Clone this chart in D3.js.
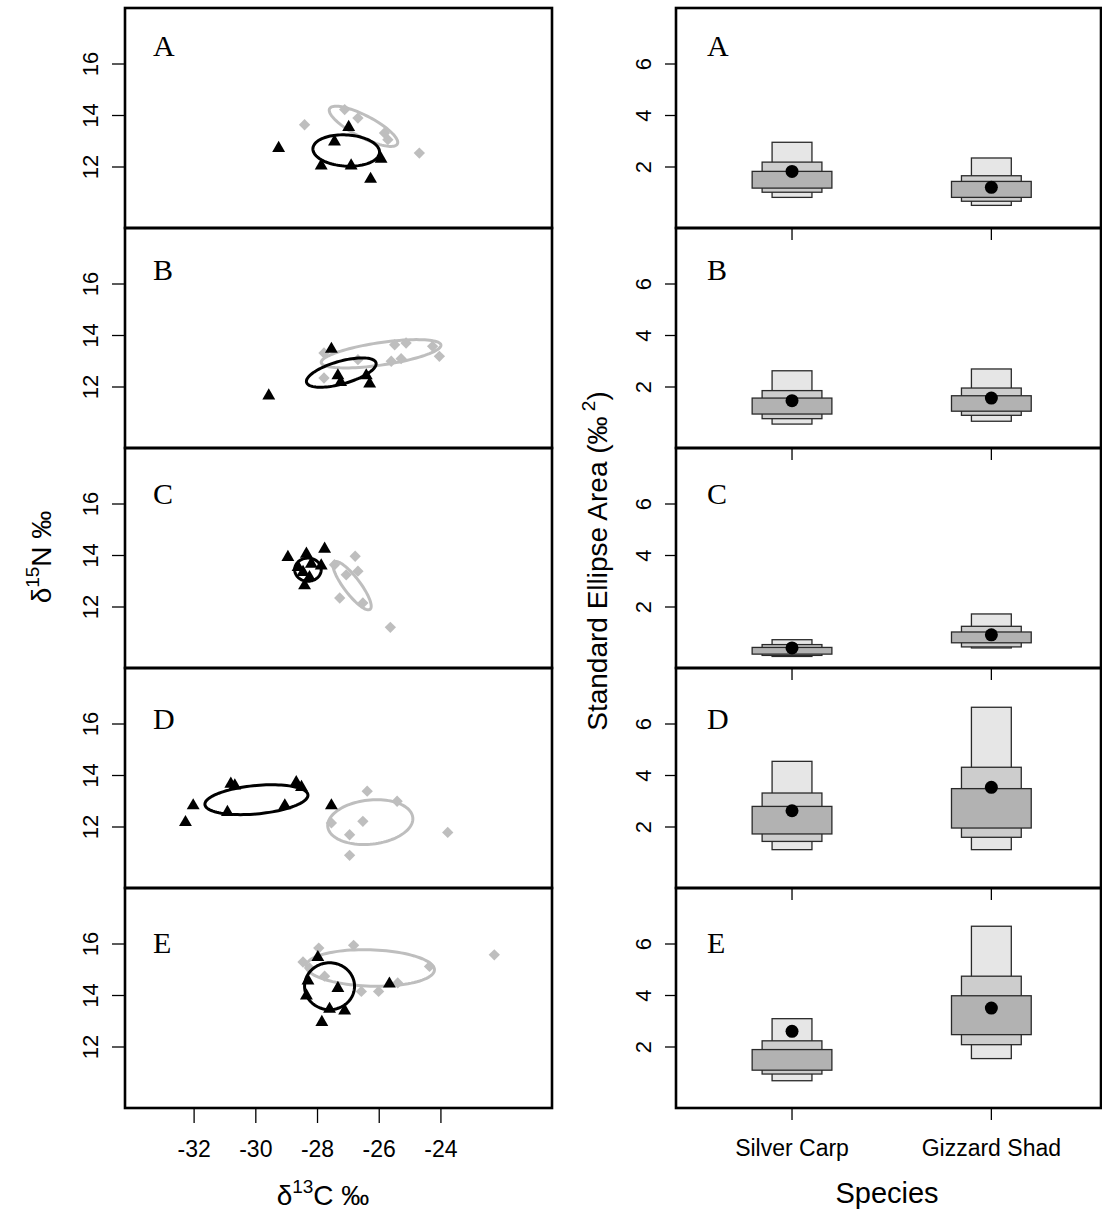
<!DOCTYPE html>
<html>
<head>
<meta charset="utf-8">
<script src="https://cdn.jsdelivr.net/npm/d3@7"></script>
<style>
  html, body { margin: 0; padding: 0; background: #fff; }
  svg { display: block; }
  text { font-family: Arial, "Liberation Sans", sans-serif; fill: #000; }
  .letter { font-family: "Times New Roman", "Liberation Serif", serif; }
</style>
</head>
<body>
<svg id="chart" width="1102" height="1212"></svg>
<script>
// ---------------- DATA ----------------
const panelLabels = ["A", "B", "C", "D", "E"];
const speciesNames = ["Silver Carp", "Gizzard Shad"];
const xTicksC = [-32, -30, -28, -26, -24];
const yTicksN = [12, 14, 16];
const yTicksSEA = [2, 4, 6];

// Silver Carp (black triangles): d13C and d15N per panel
const carpD13C = [
  [-29.26, -27.45, -27.88, -26.91, -25.94, -26.28, -26.99],
  [-29.58, -27.55, -27.34, -26.31, -26.42, -27.25],
  [-28.96, -28.36, -27.77, -28.63, -28.20, -27.88, -28.42, -28.26, -28.47],
  [-32.03, -32.28, -30.81, -30.68, -28.69, -28.52, -29.06, -30.92, -27.55],
  [-27.86, -27.34, -25.67, -27.61, -27.12, -27.99, -28.31, -28.36]
];
const carpD15N = [
  [12.77, 13.02, 12.09, 12.09, 12.35, 11.57, 13.58],
  [11.70, 13.51, 12.48, 12.16, 12.48, 12.22],
  [13.97, 14.10, 14.29, 13.58, 13.71, 13.64, 12.87, 13.19, 13.39],
  [12.87, 12.22, 13.71, 13.64, 13.77, 13.58, 12.87, 12.61, 12.87],
  [13.00, 14.32, 14.49, 13.51, 13.45, 15.52, 14.61, 14.03]
];
// Gizzard Shad (grey diamonds)
const shadD13C = [
  [-28.42, -27.12, -24.70, -25.83, -26.69, -25.72],
  [-27.79, -27.79, -25.50, -25.13, -24.27, -24.05, -25.29, -25.61, -26.69],
  [-26.78, -27.45, -26.69, -27.07, -27.28, -26.53, -25.64],
  [-26.39, -25.42, -26.53, -27.55, -26.96, -26.96, -23.78],
  [-27.96, -26.83, -22.27, -28.47, -24.37, -26.58, -26.02, -25.40, -28.26, -27.77]
];
const shadD15N = [
  [13.64, 14.23, 12.54, 13.32, 13.90, 13.06],
  [13.32, 12.35, 13.64, 13.71, 13.58, 13.19, 13.10, 13.00, 13.06],
  [13.97, 13.64, 13.39, 13.25, 12.35, 12.16, 11.21],
  [13.39, 13.00, 12.22, 12.16, 11.70, 10.90, 11.79],
  [15.84, 15.95, 15.58, 15.30, 15.13, 14.16, 14.16, 14.49, 15.07, 14.75]
];
// Standard ellipses: [centre d13C, centre d15N, half-width, half-height, correlation]
const carpEllipse = [
  [-27.07, 12.64, 1.08, 0.61, -0.10],
  [-27.23, 12.56, 1.13, 0.57, 0.60],
  [-28.31, 13.45, 0.43, 0.45, 0.00],
  [-29.98, 13.06, 1.67, 0.58, 0.30],
  [-27.61, 14.36, 0.81, 0.91, 0.00]
];
const shadEllipse = [
  [-26.51, 13.58, 1.11, 0.78, -0.80],
  [-25.94, 13.29, 1.94, 0.55, 0.60],
  [-26.88, 12.83, 0.62, 0.94, -0.85],
  [-26.29, 12.19, 1.38, 0.87, 0.15],
  [-26.29, 15.07, 2.08, 0.71, -0.10]
];
// Bayesian SEA credible intervals: [mode, lo50, hi50, lo75, hi75, lo95, hi95]
const carpSEA = [
  [1.83, 1.18, 1.83, 1.02, 2.19, 0.82, 2.96],
  [1.47, 0.95, 1.57, 0.77, 1.86, 0.56, 2.63],
  [0.41, 0.17, 0.43, 0.12, 0.54, 0.08, 0.73],
  [2.63, 1.73, 2.80, 1.44, 3.32, 1.12, 4.55],
  [2.61, 1.10, 1.90, 0.95, 2.24, 0.69, 3.10]
];
const shadSEA = [
  [1.21, 0.82, 1.44, 0.67, 1.66, 0.51, 2.35],
  [1.57, 1.06, 1.66, 0.90, 1.96, 0.67, 2.70],
  [0.92, 0.61, 1.03, 0.45, 1.25, 0.41, 1.73],
  [3.54, 1.96, 3.49, 1.60, 4.32, 1.12, 6.65],
  [3.51, 2.48, 3.99, 2.09, 4.75, 1.55, 6.69]
];

// ---------------- LAYOUT ----------------
const svg = d3.select("#chart");
const L = { x0: 125, x1: 552 };
const R = { x0: 676, x1: 1101 };
const top0 = 8, panelH = 220;
const greyCol = "#bebebe";

const xC = d3.scaleLinear().domain([-34.24, -20.4]).range([L.x0, L.x1]);
const xS = d3.scaleLinear().domain([0.418, 2.55]).range([R.x0, R.x1]);

const ellipsePts = (e) => {
  const [cx, cy, sx, sy, r] = e;
  const d = Math.acos(r);
  return d3.range(0, 101).map(k => {
    const t = 2 * Math.PI * k / 100;
    return [cx + sx * Math.cos(t), cy + sy * Math.cos(t - d)];
  });
};

const tri = d3.symbol().type(d3.symbolTriangle).size(72);
const dia = d3.symbol().type(d3.symbolSquare).size(64);

const boxCols = ["#e6e6e6", "#cdcdcd", "#b2b2b2"];
const halfW = [0.1, 0.15, 0.2];

panelLabels.forEach((lab, i) => {
  const top = top0 + i * panelH, bot = top + panelH;
  const yN = d3.scaleLinear().domain([9.631, 18.175]).range([bot, top]);
  const yA = d3.scaleLinear().domain([-0.369, 8.175]).range([bot, top]);

  // ---------- left: isotope biplot ----------
  const gl = svg.append("g");
  const line = d3.line().x(d => xC(d[0])).y(d => yN(d[1])).curve(d3.curveLinearClosed);

  gl.append("path").attr("d", line(ellipsePts(shadEllipse[i])))
    .attr("fill", "none").attr("stroke", greyCol).attr("stroke-width", 3);
  shadD13C[i].forEach((v, k) => {
    gl.append("path").attr("d", dia())
      .attr("transform", `translate(${xC(v)},${yN(shadD15N[i][k])}) rotate(45)`)
      .attr("fill", greyCol);
  });
  gl.append("path").attr("d", line(ellipsePts(carpEllipse[i])))
    .attr("fill", "none").attr("stroke", "#000").attr("stroke-width", 3);
  carpD13C[i].forEach((v, k) => {
    gl.append("path").attr("d", tri())
      .attr("transform", `translate(${xC(v)},${yN(carpD15N[i][k]) + 1})`)
      .attr("fill", "#000");
  });

  // y axis left
  yTicksN.forEach(t => {
    gl.append("line").attr("x1", L.x0 - 13).attr("x2", L.x0)
      .attr("y1", yN(t)).attr("y2", yN(t)).attr("stroke", "#000").attr("stroke-width", 1.3);
    gl.append("text").attr("transform", `translate(98,${yN(t)}) rotate(-90)`)
      .attr("text-anchor", "middle").attr("font-size", 22).text(t);
  });
  gl.append("rect").attr("x", L.x0).attr("y", top).attr("width", L.x1 - L.x0).attr("height", panelH)
    .attr("fill", "none").attr("stroke", "#000").attr("stroke-width", 2.6);
  gl.append("text").attr("class", "letter").attr("x", 153).attr("y", top + 48 + i * 4.2)
    .attr("font-size", 30).text(lab);

  // ---------- right: SEA density boxes ----------
  const gr = svg.append("g");
  [carpSEA[i], shadSEA[i]].forEach((s, j) => {
    const cx = j + 1;
    // 95%, 75%, 50%
    [[s[5], s[6], 0], [s[3], s[4], 1], [s[1], s[2], 2]].forEach(([lo, hi, k]) => {
      gr.append("rect")
        .attr("x", xS(cx - halfW[k])).attr("width", xS(cx + halfW[k]) - xS(cx - halfW[k]))
        .attr("y", yA(hi)).attr("height", yA(lo) - yA(hi))
        .attr("fill", boxCols[k]).attr("stroke", "#2a2a2a").attr("stroke-width", 1.3);
    });
    gr.append("circle").attr("cx", xS(cx)).attr("cy", yA(s[0])).attr("r", 6.5).attr("fill", "#000");
  });
  yTicksSEA.forEach(t => {
    gr.append("line").attr("x1", R.x0 - 11).attr("x2", R.x0)
      .attr("y1", yA(t)).attr("y2", yA(t)).attr("stroke", "#000").attr("stroke-width", 1.3);
    gr.append("text").attr("transform", `translate(651,${yA(t)}) rotate(-90)`)
      .attr("text-anchor", "middle").attr("font-size", 22).text(t);
  });
  [1, 2].forEach(c => {
    gr.append("line").attr("x1", xS(c)).attr("x2", xS(c))
      .attr("y1", bot).attr("y2", bot + 12).attr("stroke", "#000").attr("stroke-width", 1.3);
  });
  gr.append("rect").attr("x", R.x0).attr("y", top).attr("width", R.x1 - R.x0).attr("height", panelH)
    .attr("fill", "none").attr("stroke", "#000").attr("stroke-width", 2.6);
  gr.append("text").attr("class", "letter").attr("x", 707).attr("y", top + 48 + i * 4.2)
    .attr("font-size", 30).text(lab);
});

// ---------- bottom axes ----------
const yBot = top0 + 5 * panelH;
xTicksC.forEach(t => {
  svg.append("line").attr("x1", xC(t)).attr("x2", xC(t))
    .attr("y1", yBot).attr("y2", yBot + 15).attr("stroke", "#000").attr("stroke-width", 1.3);
  svg.append("text").attr("x", xC(t)).attr("y", 1157).attr("text-anchor", "middle")
    .attr("font-size", 23).text(t);
});
speciesNames.forEach((s, j) => {
  svg.append("text").attr("x", xS(j + 1)).attr("y", 1156).attr("text-anchor", "middle")
    .attr("font-size", 23).text(s);
});

// ---------- axis titles ----------
const tx = svg.append("text").attr("x", 323).attr("y", 1205).attr("text-anchor", "middle").attr("font-size", 28);
tx.append("tspan").text("δ");
tx.append("tspan").attr("dy", -12).attr("font-size", 19).text("13");
tx.append("tspan").attr("dy", 12).text("C ‰");

const ty = svg.append("text").attr("transform", "translate(51,557) rotate(-90)")
  .attr("text-anchor", "middle").attr("font-size", 28);
ty.append("tspan").text("δ");
ty.append("tspan").attr("dy", -12).attr("font-size", 19).text("15");
ty.append("tspan").attr("dy", 12).text("N ‰");

const ts = svg.append("text").attr("transform", "translate(607,561) rotate(-90)")
  .attr("text-anchor", "middle").attr("font-size", 28);
ts.append("tspan").text("Standard Ellipse Area (‰");
ts.append("tspan").attr("dy", -12).attr("font-size", 19).text(" 2");
ts.append("tspan").attr("dy", 12).text(")");

svg.append("text").attr("x", 887).attr("y", 1203).attr("text-anchor", "middle")
  .attr("font-size", 29).text("Species");
</script>
</body>
</html>
